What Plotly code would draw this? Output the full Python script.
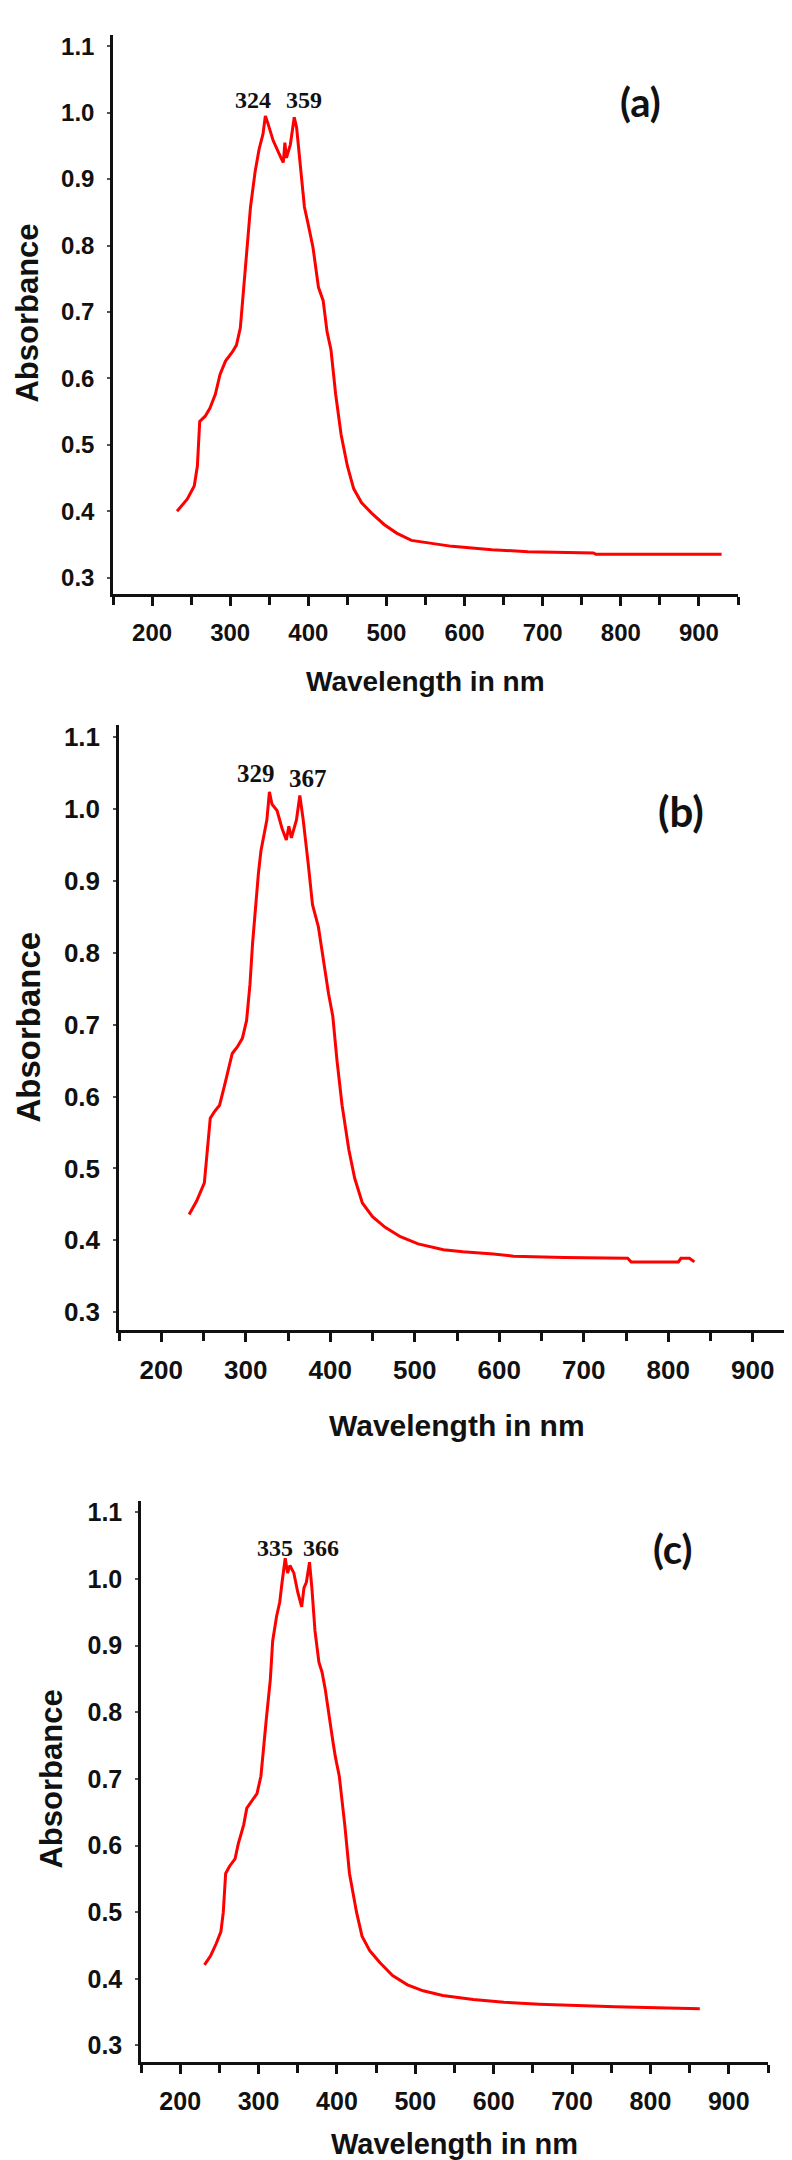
import plotly.graph_objects as go

W, H = 792, 2160

# ---------------- data ----------------
wl_a = [232, 245, 254, 258, 261, 268, 274, 281, 287, 294, 303, 308, 313, 316, 321, 326, 332, 337, 342,
        345, 348, 355, 365, 368, 370, 372, 377, 382, 385, 390, 395, 400, 406, 413, 419, 424, 429, 435,
        442, 450, 458, 468, 481, 497, 513, 532, 558, 584, 635, 681, 765, 768, 929]
abs_a = [0.400, 0.418, 0.438, 0.468, 0.535, 0.543, 0.555, 0.576, 0.606, 0.626, 0.640, 0.650, 0.676,
         0.717, 0.797, 0.858, 0.912, 0.945, 0.968, 0.995, 0.985, 0.958, 0.932, 0.925, 0.955, 0.932,
         0.952, 0.993, 0.978, 0.912, 0.858, 0.831, 0.797, 0.737, 0.717, 0.670, 0.643, 0.576, 0.515,
         0.468, 0.434, 0.413, 0.397, 0.380, 0.367, 0.356, 0.351, 0.347, 0.342, 0.339, 0.337, 0.335, 0.335]

wl_b = [233, 242, 251, 255, 258, 263, 269, 275, 284, 290, 296, 301, 305, 308, 312, 315, 318, 322, 325,
        328, 331, 337, 343, 348, 351, 354, 360, 364, 368, 374, 379, 386, 392, 398, 403, 408, 414, 422,
        429, 438, 450, 465, 483, 504, 534, 557, 593, 617, 677, 752, 756, 812, 815, 825, 831]
abs_b = [0.436, 0.455, 0.480, 0.526, 0.570, 0.579, 0.588, 0.616, 0.660, 0.669, 0.681, 0.706, 0.756,
         0.812, 0.874, 0.911, 0.942, 0.964, 0.985, 1.024, 1.007, 0.998, 0.973, 0.957, 0.976, 0.960,
         0.985, 1.019, 0.985, 0.923, 0.867, 0.836, 0.787, 0.743, 0.712, 0.650, 0.588, 0.526, 0.486,
         0.452, 0.433, 0.418, 0.405, 0.395, 0.387, 0.384, 0.381, 0.378, 0.376, 0.375, 0.370, 0.370,
         0.375, 0.375, 0.370]

wl_c = [231, 239, 246, 252, 255, 258, 263, 270, 274, 281, 285, 292, 298, 303, 306, 310, 315, 318, 323,
        327, 330, 334, 337, 340, 345, 350, 355, 358, 361, 365, 368, 372, 377, 381, 385, 390, 395, 398,
        403, 410, 416, 425, 432, 442, 455, 471, 490, 510, 535, 574, 613, 658, 755, 863]
abs_c = [0.421, 0.435, 0.453, 0.471, 0.500, 0.558, 0.569, 0.580, 0.602, 0.631, 0.656, 0.667, 0.678,
         0.704, 0.747, 0.791, 0.849, 0.907, 0.944, 0.965, 0.995, 1.031, 1.009, 1.020, 1.009, 0.980,
         0.958, 0.987, 0.995, 1.025, 0.987, 0.922, 0.875, 0.860, 0.835, 0.791, 0.755, 0.733, 0.704,
         0.631, 0.558, 0.500, 0.464, 0.442, 0.424, 0.405, 0.391, 0.382, 0.375, 0.369, 0.365, 0.362,
         0.358, 0.355]

peak_labels_a = ["324", "359"]
peak_labels_b = ["329", "367"]
peak_labels_c = ["335", "366"]
panel_labels = ["(a)", "(b)", "(c)"]
x_ticks = [200, 300, 400, 500, 600, 700, 800, 900]
y_ticks = [0.3, 0.4, 0.5, 0.6, 0.7, 0.8, 0.9, 1.0, 1.1]
x_title = "Wavelength in nm"
y_title = "Absorbance"

# ---------------- layout geometry (pixels) ----------------
panels = [
    dict(x0=105, x1=730, y0=24, y1=584, tick=24, ytitle_x=20, ytitle_y=303, ytsize=31,
         xtitle_y=671, xtsize=28, plab=24, peaks=peak_labels_a,
         peak_pos=[(329, 1.019), (394.5, 1.019)], panel_pos=(825, 1.016), psize=40),
    dict(x0=111, x1=787, y0=715, y1=1321, tick=26, ytitle_x=21, ytitle_y=1018, ytsize=33,
         xtitle_y=1416, xtsize=30, plab=25, peaks=peak_labels_b,
         peak_pos=[(312, 1.049), (374, 1.042)], panel_pos=(815, 0.997), psize=42),
    dict(x0=133, x1=760, y0=1492, y1=2054, tick=25, ytitle_x=44, ytitle_y=1771, ytsize=31,
         xtitle_y=2136, xtsize=29, plab=24, peaks=peak_labels_c,
         peak_pos=[(320.5, 1.047), (380, 1.047)], panel_pos=(828, 1.045), psize=40),
]
series = [(wl_a, abs_a), (wl_b, abs_b), (wl_c, abs_c)]

SANS = "Liberation Sans, Arial, sans-serif"
SERIF = "Liberation Serif, Times New Roman, serif"
LABEL = "Lato, Calibri, sans-serif"

fig = go.Figure()
annotations = []
layout_axes = {}

for i, (p, (xs, ys)) in enumerate(zip(panels, series)):
    n = "" if i == 0 else str(i + 1)
    xa, ya = "x" + n, "y" + n
    fig.add_trace(go.Scatter(x=xs, y=ys, mode="lines", xaxis=xa, yaxis=ya,
                             line=dict(color="#FF0000", width=3), showlegend=False,
                             hoverinfo="skip"))
    layout_axes["xaxis" + n] = dict(
        domain=[p["x0"] / W, p["x1"] / W], anchor=ya, range=[150, 950],
        showgrid=False, zeroline=False, showline=True, linecolor="#111", linewidth=2.5,
        ticks="outside", ticklen=9, tickwidth=2.5, tickcolor="#111",
        tickvals=x_ticks, ticktext=[str(v) for v in x_ticks], ticklabelstandoff=6,
        tickfont=dict(family=SANS, size=p["tick"], color="#111", weight="bold"),
        minor=dict(ticks="outside", dtick=50, tick0=150, ticklen=8, tickwidth=2.5, tickcolor="#111"),
        fixedrange=True,
    )
    layout_axes["yaxis" + n] = dict(
        domain=[1 - p["y1"] / H, 1 - p["y0"] / H], anchor=xa, range=[0.275, 1.117],
        showgrid=False, zeroline=False, showline=True, linecolor="#111", linewidth=2.5,
        ticks="outside", ticklen=3, tickwidth=1.5, tickcolor="#555",
        tickvals=y_ticks, ticktext=["%.1f" % v for v in y_ticks], ticklabelstandoff=8,
        tickfont=dict(family=SANS, size=p["tick"], color="#111", weight="bold"),
        fixedrange=True,
    )
    # axis titles
    annotations.append(dict(xref="paper", yref="paper", x=(p["x0"] + p["x1"]) / 2 / W,
                            y=1 - p["xtitle_y"] / H, text=x_title, showarrow=False,
                            xanchor="center", yanchor="middle",
                            font=dict(family=SANS, size=p["xtsize"], color="#111", weight="bold")))
    annotations.append(dict(xref="paper", yref="paper", x=p["ytitle_x"] / W,
                            y=1 - p["ytitle_y"] / H, text=y_title, showarrow=False, textangle=-90,
                            xanchor="center", yanchor="middle",
                            font=dict(family=SANS, size=p["ytsize"], color="#111", weight="bold")))
    # peak labels
    for lab, (px, py) in zip(p["peaks"], p["peak_pos"]):
        annotations.append(dict(xref=xa, yref=ya, x=px, y=py, text=lab, showarrow=False,
                                xanchor="center", yanchor="middle",
                                font=dict(family=SERIF, size=p["plab"], color="#111", weight="bold")))
    # panel label
    annotations.append(dict(xref=xa, yref=ya, x=p["panel_pos"][0], y=p["panel_pos"][1],
                            text=panel_labels[i], showarrow=False, xanchor="center", yanchor="middle",
                            font=dict(family=LABEL, size=p["psize"], color="#111", weight="bold")))

fig.update_layout(
    width=W, height=H, margin=dict(l=0, r=0, t=0, b=0),
    paper_bgcolor="white", plot_bgcolor="white",
    annotations=annotations, **layout_axes,
)

fig.write_html("out.html")
